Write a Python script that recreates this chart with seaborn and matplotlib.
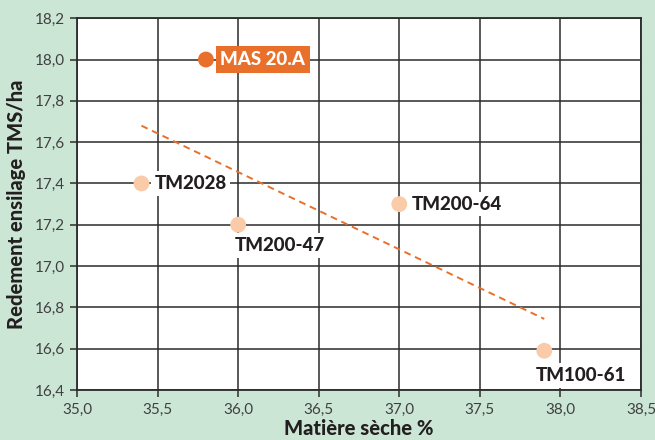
import numpy as np
import pandas as pd
import seaborn as sns
from matplotlib import pyplot as plt
from matplotlib.ticker import MultipleLocator, FuncFormatter

varieties = ["MAS 20.A", "TM2028", "TM200-47", "TM200-64", "TM100-61"]
dry_matter = [35.8, 35.4, 36.0, 37.0, 37.9]
yield_tms = [18.0, 17.4, 17.2, 17.3, 16.59]

bg_green = "#cce6d6"
orange = "#e8702a"
peach = "#f9cba8"

df = pd.DataFrame({"variete": varieties, "ms": dry_matter, "rdt": yield_tms})

sns.set_style("white")
plt.rcParams["font.family"] = ["Lato", "DejaVu Sans"]

fig = plt.figure(figsize=(6.55, 4.4), dpi=100, facecolor=bg_green)
ax = fig.add_axes([0.1176, 0.1136, 0.861, 0.845])
ax.set_facecolor("white")

# trend line over all points
sns.regplot(data=df, x="ms", y="rdt", ci=None, scatter=False, ax=ax,
            line_kws={"color": orange, "linestyle": (0, (3.5, 2.5)), "linewidth": 1.4})

colors = [orange if v == "MAS 20.A" else peach for v in varieties]
sns.scatterplot(data=df, x="ms", y="rdt", hue="variete", palette=colors,
                s=130, edgecolor="none", legend=False, ax=ax, zorder=4)

label_pos = {
    "MAS 20.A": (0.09, 0.0),
    "TM2028": (0.08, 0.0),
    "TM200-47": (-0.02, -0.1),
    "TM200-64": (0.08, 0.0),
    "TM100-61": (-0.05, -0.12),
}
for v, x, y in zip(varieties, dry_matter, yield_tms):
    dx, dy = label_pos[v]
    if v == "MAS 20.A":
        ax.text(x + dx, y + dy, v, ha="left", va="center", fontsize=13.5, fontweight="black",
                color="white", zorder=5,
                bbox=dict(boxstyle="square,pad=0.25", fc=orange, ec="none"))
    else:
        ax.text(x + dx, y + dy, v, ha="left", va="center", fontsize=13.5, fontweight="black",
                color="#231f20", zorder=5,
                bbox=dict(boxstyle="square,pad=0.2", fc="white", ec="none"))

ax.set_xlim(35.0, 38.5)
ax.set_ylim(16.4, 18.2)
ax.xaxis.set_major_locator(MultipleLocator(0.5))
ax.yaxis.set_major_locator(MultipleLocator(0.2))
fmt = FuncFormatter(lambda v, p: f"{v:.1f}".replace(".", ","))
ax.xaxis.set_major_formatter(fmt)
ax.yaxis.set_major_formatter(fmt)

ax.grid(True, color="#2b2b2b", linewidth=1.1, zorder=0)
ax.set_axisbelow(True)
for s in ax.spines.values():
    s.set_color("#2b2b2b")
    s.set_linewidth(1.3)

ax.tick_params(axis="both", direction="out", length=5, width=1.1, color="#2b2b2b",
               labelsize=11, labelcolor="#404040", pad=4,
               bottom=True, left=True)

ax.set_xlabel("Matière sèche %", fontsize=14.5, fontweight="black", color="#231f20", labelpad=2)
ax.set_ylabel("Redement ensilage TMS/ha", fontsize=14.5, fontweight="black", color="#231f20", labelpad=6)

fig.savefig("out.png", dpi=100, facecolor=bg_green)
